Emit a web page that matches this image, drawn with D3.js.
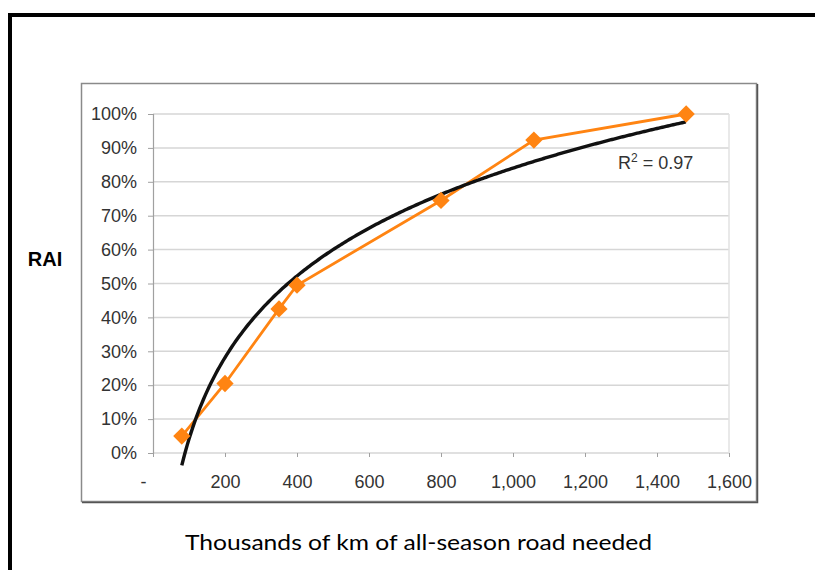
<!DOCTYPE html>
<html>
<head>
<meta charset="utf-8">
<script src="https://cdn.jsdelivr.net/npm/d3@7"></script>
<style>
  body { margin: 0; background: #fff; }
  svg { display: block; }
</style>
</head>
<body>
<div id="chart"></div>
<script>
'use strict';

// road needed (thousands of km) vs RAI
const roadKm = [80, 200, 350, 400, 800, 1058, 1481];
const raiValues = [0.05, 0.205, 0.425, 0.495, 0.745, 0.923, 1.0];
const xTicks = [0, 200, 400, 600, 800, 1000, 1200, 1400, 1600];
const yTicks = [0, 0.1, 0.2, 0.3, 0.4, 0.5, 0.6, 0.7, 0.8, 0.9, 1.0];
const r2Label = '0.97';

const width = 815;
const height = 570;
const plot = { left: 153, right: 729, top: 114, bottom: 453 };
const orange = '#ff8412';
const labelFont = '"Liberation Sans", Arial, sans-serif';

const svg = d3.select('#chart')
  .append('svg')
  .attr('width', width)
  .attr('height', height);

// outer black frame (runs off the page right and bottom)
svg.append('path')
  .attr('d', `M10,${height + 5} V15 H${width + 5}`)
  .attr('fill', 'none')
  .attr('stroke', 'black')
  .attr('stroke-width', 4);

// chart area frame
svg.append('rect')
  .attr('x', 81.5)
  .attr('y', 83.5)
  .attr('width', 675)
  .attr('height', 418)
  .attr('fill', 'white')
  .attr('stroke', '#8a8a8a')
  .attr('stroke-width', 1.5);
svg.append('path')
  .attr('d', 'M757.5,84 V502.5 H82')
  .attr('fill', 'none')
  .attr('stroke', '#555')
  .attr('stroke-width', 1.5);

const x = d3.scaleLinear()
  .domain([0, 1600])
  .range([plot.left, plot.right]);

const y = d3.scaleLinear()
  .domain([0, 1])
  .range([plot.bottom, plot.top]);

// horizontal gridlines
svg.append('g')
  .selectAll('line')
  .data(yTicks)
  .join('line')
  .attr('x1', plot.left)
  .attr('x2', plot.right)
  .attr('y1', (d) => y(d))
  .attr('y2', (d) => y(d))
  .attr('stroke', '#d6d6d6')
  .attr('stroke-width', 1.5);

// right edge of plot area
svg.append('line')
  .attr('x1', plot.right)
  .attr('x2', plot.right)
  .attr('y1', plot.top)
  .attr('y2', plot.bottom)
  .attr('stroke', '#e2e2e2')
  .attr('stroke-width', 1.5);

// y axis
const yAxis = svg.append('g')
  .attr('transform', `translate(${plot.left}, 0)`)
  .call(d3.axisLeft(y).tickValues(yTicks).tickFormat(d3.format('.0%')).tickSize(5).tickPadding(11));

// x axis
const xFormat = (d) => d === 0 ? '-' : d3.format(',')(d);
const xAxis = svg.append('g')
  .attr('transform', `translate(0, ${plot.bottom})`)
  .call(d3.axisBottom(x).tickValues(xTicks).tickFormat(xFormat).tickSize(4).tickPadding(18));

[yAxis, xAxis].forEach((axis) => {
  axis.select('.domain').attr('stroke', '#a0a0a0').attr('stroke-width', 1.2);
  axis.selectAll('.tick line').attr('stroke', '#a0a0a0');
  axis.selectAll('text')
    .attr('fill', '#333')
    .style('font-family', labelFont)
    .style('font-size', '18px');
});
xAxis.select('.domain').remove();
xAxis.selectAll('.tick')
  .filter((d) => d === 0)
  .select('text')
  .attr('dx', -10);

// logarithmic trendline fitted to the data
const lnX = roadKm.map(Math.log);
const meanLn = d3.mean(lnX);
const meanY = d3.mean(raiValues);
const slope = d3.sum(lnX, (v, i) => (v - meanLn) * (raiValues[i] - meanY))
  / d3.sum(lnX, (v) => (v - meanLn) ** 2);
const intercept = meanY - slope * meanLn;
const trendX = d3.range(d3.min(roadKm), d3.max(roadKm) + 1, 5);

const line = d3.line()
  .x((d) => x(d[0]))
  .y((d) => y(d[1]));

// data series
svg.append('path')
  .datum(roadKm.map((d, i) => [d, raiValues[i]]))
  .attr('d', line)
  .attr('fill', 'none')
  .attr('stroke', orange)
  .attr('stroke-width', 2.8);

svg.append('path')
  .datum(trendX.map((d) => [d, slope * Math.log(d) + intercept]))
  .attr('d', line)
  .attr('fill', 'none')
  .attr('stroke', '#111')
  .attr('stroke-width', 3.4)
  .attr('stroke-linejoin', 'round');

svg.append('g')
  .selectAll('path')
  .data(roadKm)
  .join('path')
  .attr('transform', (d, i) => `translate(${x(d)}, ${y(raiValues[i])})`)
  .attr('d', d3.symbol(d3.symbolDiamond2, 190))
  .attr('fill', orange);

// R squared
const r2 = svg.append('text')
  .attr('x', 618)
  .attr('y', 169)
  .attr('fill', '#333')
  .style('font-family', labelFont)
  .style('font-size', '18px');
r2.append('tspan').text('R');
r2.append('tspan').attr('dy', -7).style('font-size', '12px').text('2');
r2.append('tspan').attr('dy', 7).text(` = ${r2Label}`);

// axis titles
svg.append('text')
  .attr('x', 45)
  .attr('y', 266)
  .attr('text-anchor', 'middle')
  .attr('fill', 'black')
  .style('font-family', labelFont)
  .style('font-weight', 'bold')
  .style('font-size', '20px')
  .text('RAI');

svg.append('text')
  .attr('x', 418.5)
  .attr('y', 550)
  .attr('text-anchor', 'middle')
  .attr('fill', 'black')
  .attr('textLength', 467)
  .attr('lengthAdjust', 'spacingAndGlyphs')
  .style('font-family', 'Lato, "Open Sans", sans-serif')
  .style('font-size', '21px')
  .text('Thousands of km of all-season road needed');
</script>
</body>
</html>
